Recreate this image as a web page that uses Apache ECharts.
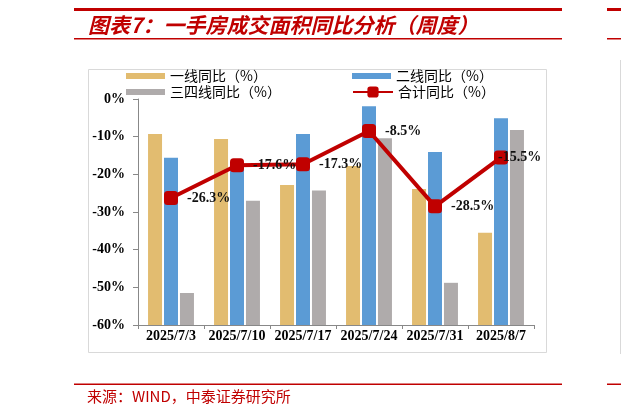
<!DOCTYPE html>
<html><head><meta charset="utf-8">
<script src="https://cdn.jsdelivr.net/npm/echarts@6/dist/echarts.min.js"></script>
<style>html,body{margin:0;padding:0;background:#fff}#c{width:621px;height:416px}</style>
</head><body><div id="c"></div>
<script>
const categories = ['2025/7/3','2025/7/10','2025/7/17','2025/7/24','2025/7/31','2025/8/7'];
const tier1Yoy = [-9.3, -10.6, -22.8, -17.8, -23.9, -35.5];
const tier2Yoy = [-15.6, -18.5, -9.3, -1.9, -14.1, -5.1];
const tier34Yoy = [-51.5, -27.0, -24.3, -10.4, -48.8, -8.2];
const totalYoy = [-26.3, -17.6, -17.3, -8.5, -28.5, -15.5];
const seriesNames = ['一线同比（%）', '二线同比（%）', '三四线同比（%）', '合计同比（%）'];
const yMin = -60, yMax = 0, yStep = 10;

const RED = '#C00000';
const serif = "'Liberation Serif','Times New Roman',serif";
const cjk = "'Noto Sans CJK SC',sans-serif";

const chart = echarts.init(document.getElementById('c'), null, {renderer: 'canvas'});

const legendBase = {padding: 0, itemWidth: 39, itemHeight: 6, icon: 'rect',
  textStyle: {fontSize: 14, fontFamily: cjk, color: '#000'}, selectedMode: false};

const option = {
  animation: false,
  backgroundColor: '#fff',
  grid: {left: 138, right: 87, top: 99, bottom: 91, containLabel: false},
  legend: [
    Object.assign({}, legendBase, {data: [seriesNames[0]], left: 126, top: 69}),
    Object.assign({}, legendBase, {data: [seriesNames[1]], left: 352, top: 69}),
    Object.assign({}, legendBase, {data: [seriesNames[2]], left: 126, top: 85}),
    Object.assign({}, legendBase, {data: [seriesNames[3]], left: 352, top: 85, icon: null, itemWidth: 40, itemHeight: 14})
  ],
  xAxis: {
    type: 'category', data: categories,
    axisLine: {onZero: false, lineStyle: {color: '#888', width: 1}},
    axisTick: {show: true, length: 4, alignWithLabel: false, lineStyle: {color: '#888'}},
    axisLabel: {interval: 0, margin: 4, fontSize: 14, fontWeight: 'bold', fontFamily: serif, color: '#000'},
    splitLine: {show: false}
  },
  yAxis: {
    type: 'value', min: yMin, max: yMax, interval: yStep, startValue: yMin,
    axisLine: {show: true, lineStyle: {color: '#888', width: 1}},
    axisTick: {show: true, length: 5, lineStyle: {color: '#888'}},
    axisLabel: {formatter: '{value}%', margin: 13, fontSize: 14, fontWeight: 'bold', fontFamily: serif, color: '#000'},
    splitLine: {show: false}
  },
  series: [
    {name: seriesNames[0], type: 'bar', data: tier1Yoy, barWidth: 14, barGap: '14%', itemStyle: {color: '#E2BC70'}, z: 2},
    {name: seriesNames[1], type: 'bar', data: tier2Yoy, barWidth: 14, barGap: '14%', itemStyle: {color: '#5B9BD5'}, z: 2},
    {name: seriesNames[2], type: 'bar', data: tier34Yoy, barWidth: 14, barGap: '14%', itemStyle: {color: '#AFABAB'}, z: 2},
    {name: seriesNames[3], type: 'line', z: 5,
      data: totalYoy.map((v, i) => i === totalYoy.length - 1 ? {value: v, label: {offset: [-19, 0]}} : v),
      symbol: 'roundRect', symbolSize: 14,
      lineStyle: {color: RED, width: 4}, itemStyle: {color: RED},
      label: {show: true, position: 'right', distance: 9, formatter: p => p.value.toFixed(1) + '%',
        fontSize: 14, fontWeight: 'bold', fontFamily: serif, color: '#111'}
    }
  ],
  graphic: [
    {type: 'rect', shape: {x: 74, y: 8, width: 488, height: 3}, style: {fill: RED}},
    {type: 'rect', shape: {x: 607, y: 8, width: 14, height: 3}, style: {fill: RED}},
    {type: 'rect', shape: {x: 74, y: 38, width: 488, height: 1.5}, style: {fill: RED}},
    {type: 'rect', shape: {x: 607, y: 38, width: 14, height: 1.5}, style: {fill: RED}},
    {type: 'text', x: 88, y: 25, style: {text: '图表7：一手房成交面积同比分析（周度）', fill: RED,
      font: 'italic bold 21px ' + cjk, textVerticalAlign: 'middle'}},
    {type: 'rect', shape: {x: 88.5, y: 69.5, width: 458, height: 283}, style: {fill: 'none', stroke: '#d9d9d9', lineWidth: 1}, z: -1},
    {type: 'line', shape: {x1: 620.5, y1: 60, x2: 620.5, y2: 354}, style: {stroke: '#d9d9d9', lineWidth: 1}},
    {type: 'rect', shape: {x: 74, y: 383.5, width: 488, height: 1.5}, style: {fill: RED}},
    {type: 'rect', shape: {x: 607, y: 383.5, width: 14, height: 1.5}, style: {fill: RED}},
    {type: 'text', x: 87, y: 396, style: {text: '来源：WIND，中泰证券研究所', fill: RED,
      font: '15px ' + cjk, textVerticalAlign: 'middle'}}
  ]
};
chart.setOption(option);
</script>
</body></html>
